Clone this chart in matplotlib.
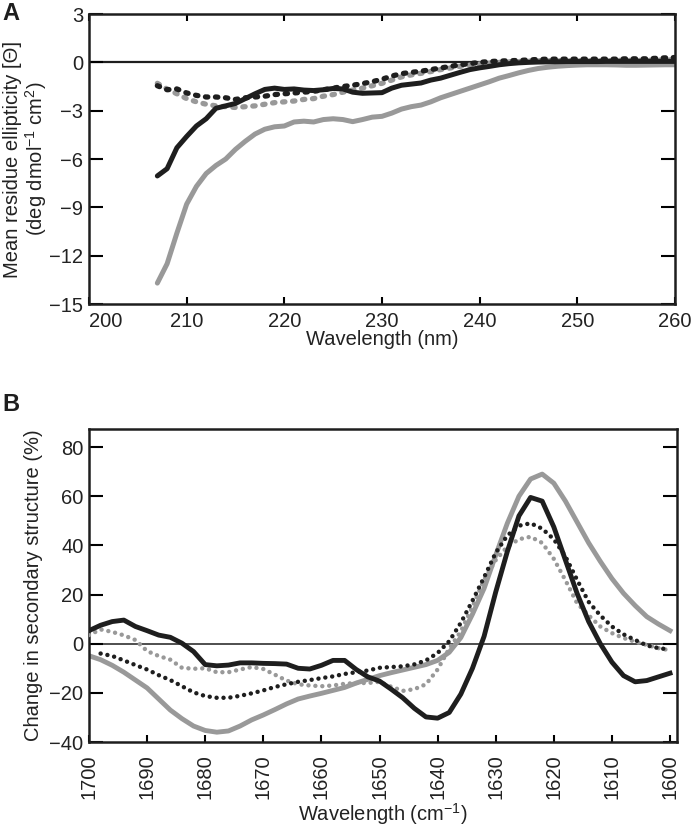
import numpy as np
import matplotlib
matplotlib.use("Agg")
import matplotlib.pyplot as plt

plt.rcParams['font.family'] = ['Liberation Sans', 'DejaVu Sans']
plt.rcParams['mathtext.default'] = 'regular'

# ---- Panel A: CD spectra ----
wl = np.arange(207, 261)
cd_black_solid = [-7.05, -6.6, -5.3, -4.6, -3.95, -3.5, -2.85, -2.7, -2.55, -2.25,
                  -1.95, -1.68, -1.6, -1.68, -1.65, -1.72, -1.75, -1.7, -1.62, -1.65,
                  -1.85, -1.92, -1.9, -1.88, -1.6, -1.42, -1.35, -1.28, -1.1, -0.98,
                  -0.8, -0.62, -0.45, -0.34, -0.25, -0.15, -0.08, -0.03, 0.0, 0.02,
                  0.03, 0.04, 0.05, 0.05, 0.05, 0.05, 0.06, 0.06, 0.06, 0.06,
                  0.06, 0.06, 0.06, 0.06]
cd_gray_solid = [-13.7, -12.5, -10.6, -8.8, -7.7, -6.9, -6.4, -6.0, -5.4, -4.9,
                 -4.45, -4.15, -4.0, -3.95, -3.7, -3.65, -3.7, -3.55, -3.5, -3.55,
                 -3.68, -3.55, -3.4, -3.35, -3.15, -2.9, -2.75, -2.65, -2.45, -2.2,
                 -2.0, -1.8, -1.6, -1.4, -1.2, -0.98, -0.82, -0.65, -0.5, -0.38,
                 -0.3, -0.24, -0.2, -0.17, -0.15, -0.15, -0.15, -0.16, -0.18, -0.18,
                 -0.17, -0.16, -0.15, -0.15]
cd_black_dot = [-1.45, -1.7, -1.65, -1.9, -2.05, -2.15, -2.15, -2.2, -2.3, -2.2,
                -2.15, -2.1, -2.0, -1.95, -1.9, -1.85, -1.8, -1.7, -1.6, -1.5,
                -1.42, -1.32, -1.2, -1.05, -0.85, -0.7, -0.62, -0.55, -0.45, -0.35,
                -0.25, -0.15, -0.08, 0.0, 0.05, 0.08, 0.1, 0.12, 0.15, 0.18,
                0.2, 0.2, 0.2, 0.2, 0.2, 0.2, 0.2, 0.2, 0.22, 0.22,
                0.22, 0.25, 0.28, 0.3]
cd_gray_dot = [-1.3, -1.65, -1.95, -2.25, -2.45, -2.6, -2.7, -2.75, -2.8, -2.75,
               -2.7, -2.6, -2.5, -2.45, -2.4, -2.3, -2.25, -2.1, -2.0, -1.85,
               -1.72, -1.6, -1.45, -1.3, -1.1, -0.9, -0.78, -0.68, -0.57, -0.45,
               -0.35, -0.25, -0.17, -0.1, -0.05, 0.0, 0.03, 0.05, 0.07, 0.1,
               0.1, 0.1, 0.1, 0.1, 0.1, 0.1, 0.1, 0.12, 0.12, 0.12,
               0.12, 0.13, 0.14, 0.15]

# ---- Panel B: FTIR difference ----
wn = np.arange(1700, 1599, -2)
ir_black_solid = [5.3, 7.5, 9.0, 9.6, 7.0, 5.3, 3.5, 2.6, 0.2, -3.2,
                  -8.5, -9.0, -8.7, -7.8, -7.8, -8.0, -8.1, -8.3, -10.0, -10.3,
                  -8.8, -6.8, -6.8, -10.5, -13.5, -15.2, -18.5, -22.0, -26.3, -29.8,
                  -30.3, -28.0, -20.5, -10.0, 3.0, 21.0, 37.5, 52.0, 59.5, 58.0,
                  47.5, 34.0, 20.5, 9.0, 0.0, -7.5, -13.0, -15.5, -15.0, -13.5,
                  -12.0]
ir_gray_solid = [-4.9, -6.5, -8.8, -11.6, -14.8, -18.0, -22.5, -27.0, -30.5, -33.5,
                 -35.3, -36.0, -35.5, -33.5, -31.0, -29.0, -26.8, -24.5, -22.5, -21.3,
                 -20.2, -19.0, -17.8, -16.0, -14.5, -13.0, -11.8, -10.7, -9.6, -8.5,
                 -6.8, -3.5, 2.5, 12.0, 22.5, 36.0, 49.0, 60.0, 67.0, 69.0,
                 65.3, 58.0, 49.5, 41.0, 33.5, 26.5, 20.5, 15.5, 11.0, 8.0,
                 5.3]
ir_black_dot = [np.nan, -4.0, -5.0, -6.8, -8.7, -10.5, -12.8, -14.8, -17.3, -19.8,
                -21.3, -22.0, -22.0, -21.2, -20.2, -19.0, -17.6, -16.5, -15.5, -14.8,
                -14.0, -13.3, -12.3, -11.6, -10.9, -9.8, -9.5, -9.2, -8.4, -6.8,
                -3.8, 1.0, 8.5, 17.5, 27.0, 37.0, 44.0, 48.0, 49.0, 46.8,
                42.5, 35.5, 26.0, 17.0, 11.5, 7.0, 3.8, 1.5, -0.7, -1.8,
                -2.4]
ir_gray_dot = [3.5, 5.8, 4.8, 3.4, 1.5, -3.0, -5.0, -6.5, -9.8, -10.2,
               -10.0, -11.6, -11.6, -10.5, -9.5, -10.3, -12.6, -15.0, -16.5, -17.0,
               -17.3, -17.0, -16.3, -16.0, -16.0, -15.5, -17.5, -19.2, -18.5, -16.5,
               -10.5, -2.0, 5.0, 15.0, 26.0, 34.0, 39.5, 42.5, 43.5, 41.0,
               34.5, 25.8, 16.5, 11.5, 7.0, 4.3, 2.3, 0.8, -0.5, -1.8,
               -2.7]

BLACK = '#1e1e1e'
GRAY = '#999999'
TXT = '#222222'
FS = 14.5

fig = plt.figure(figsize=(6.93, 8.30), dpi=100)

# ---------------- A ----------------
axA = fig.add_axes([0.1284, 0.6337, 0.8456, 0.3494])
axA.axhline(0, color=BLACK, lw=1.6, zorder=1)
dotsA = (0, (0.45, 1.45))
axA.plot(wl, cd_gray_dot, color=GRAY, lw=3.8, ls=dotsA, dash_capstyle='round', zorder=2)
axA.plot(wl, cd_black_dot, color=BLACK, lw=3.8, ls=dotsA, dash_capstyle='round', zorder=3)
axA.plot(wl, cd_gray_solid, color=GRAY, lw=3.6, solid_capstyle='round', zorder=2)
axA.plot(wl, cd_black_solid, color=BLACK, lw=3.6, solid_capstyle='round', zorder=4)

axA.set_xlim(200, 260)
axA.set_ylim(-15, 3)
axA.set_xticks(np.arange(200, 261, 10))
axA.set_yticks(np.arange(-15, 4, 3))
axA.tick_params(axis='y', which='both', direction='in', length=10, width=1.5,
                left=True, right=True, labelsize=FS, labelcolor=TXT, pad=4)
axA.tick_params(axis='x', which='both', direction='in', length=5, width=1.5,
                top=True, bottom=True, labelsize=FS, labelcolor=TXT, pad=6)
axA.get_xticklabels()[0].set_horizontalalignment('left')
for s in axA.spines.values():
    s.set_linewidth(1.8)
    s.set_color(BLACK)
axA.set_xlabel('Wavelength (nm)', fontsize=FS, color=TXT, labelpad=-1)
axA.set_ylabel('Mean residue ellipticity [\u0398]\n(deg dmol$^{-1}$ cm$^{2}$)',
               fontsize=FS, color=TXT, linespacing=1.05)
axA.yaxis.set_label_coords(-0.068, 0.5)
fig.text(0.003, 0.997, 'A', fontsize=17, fontweight='bold', color=BLACK,
         ha='left', va='top')

# ---------------- B ----------------
axB = fig.add_axes([0.1284, 0.106, 0.8485, 0.377])
axB.axhline(0, color=BLACK, lw=1.1, zorder=1)
dotsB = (0, (0.01, 1.55))
axB.plot(wn, ir_gray_solid, color=GRAY, lw=3.5, zorder=2)
axB.plot(wn, ir_gray_dot, color=GRAY, lw=3.2, ls=dotsB, dash_capstyle='round', zorder=3)
axB.plot(wn, ir_black_dot, color=BLACK, lw=3.2, ls=dotsB, dash_capstyle='round', zorder=3)
axB.plot(wn, ir_black_solid, color=BLACK, lw=3.5, zorder=4)

axB.set_xlim(1700, 1598.8)
axB.set_ylim(-40, 87.3)
axB.set_xticks(np.arange(1700, 1599, -10))
axB.set_yticks(np.arange(-40, 81, 20))
axB.tick_params(axis='y', which='both', direction='in', length=10, width=1.5,
                left=True, right=True, labelsize=FS, labelcolor=TXT, pad=4)
axB.tick_params(axis='x', which='both', direction='in', length=5, width=1.5,
                top=False, bottom=True, labelsize=FS, labelcolor=TXT, pad=9,
                labelrotation=90)
for s in axB.spines.values():
    s.set_linewidth(1.8)
    s.set_color(BLACK)
axB.set_xlabel('Wavelength (cm$^{-1}$)', fontsize=FS, color=TXT, labelpad=1)
axB.set_ylabel('Change in secondary structure (%)', fontsize=FS, color=TXT)
axB.yaxis.set_label_coords(-0.078, 0.5)
fig.text(0.003, 0.527, 'B', fontsize=17, fontweight='bold', color=BLACK,
         ha='left', va='top')

fig.savefig('out.png', dpi=100)
